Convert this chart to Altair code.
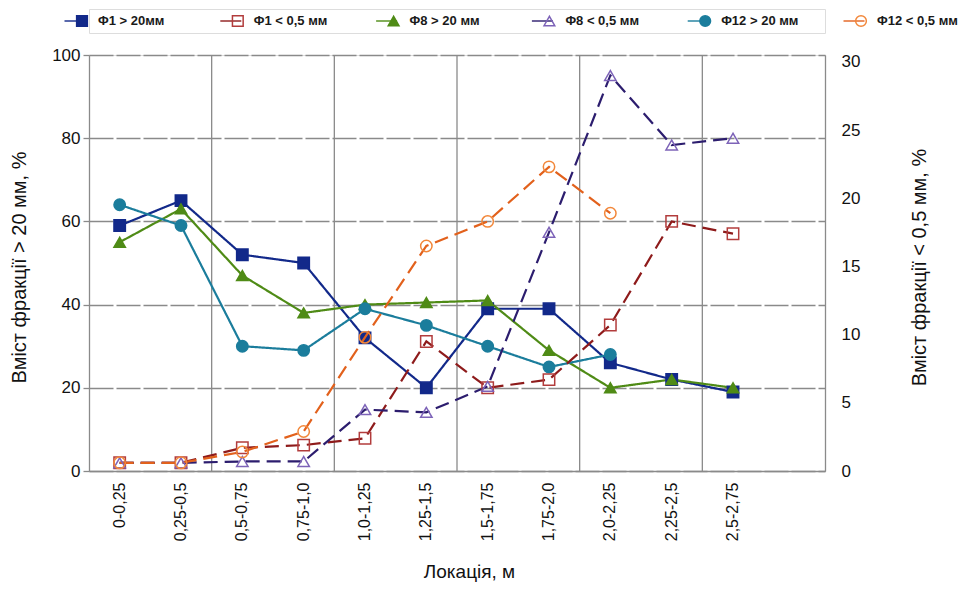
import altair as alt
import pandas as pd

# ---------------- data ----------------
categories = ["0-0,25", "0,25-0,5", "0,5-0,75", "0,75-1,0", "1,0-1,25", "1,25-1,5",
              "1,5-1,75", "1,75-2,0", "2,0-2,25", "2,25-2,5", "2,5-2,75"]

series_names = ["Φ1 > 20мм", "Φ1 < 0,5 мм", "Φ8 > 20 мм", "Φ8 < 0,5 мм",
                "Φ12 > 20 мм", "Φ12 < 0,5 мм"]

phi1_gt20 = [59, 65, 52, 50, 32, 20, 39, 39, 26, 22, 19]
phi8_gt20 = [55, 63, 47, 38, 40, 40.5, 41, 29, 20, 22, 20]
phi12_gt20 = [64, 59, 30, 29, 39, 35, 30, 25, 28]

phi1_lt05 = [0.6, 0.6, 1.7, 1.9, 2.4, 9.5, 6.1, 6.7, 10.7, 18.3, 17.4]
phi8_lt05 = [0.6, 0.6, 0.7, 0.7, 4.5, 4.3, 6.2, 17.5, 29.0, 23.9, 24.4]
phi12_lt05 = [0.6, 0.6, 1.4, 2.9, 9.8, 16.5, 18.3, 22.3, 18.9]

left_ticks = [0, 20, 40, 60, 80, 100]
right_ticks = [0, 5, 10, 15, 20, 25, 30]

# ---------------- styles ----------------
line_colors = ["#12298a", "#8e1b1b", "#4f8b16", "#2c1d6e", "#1b7d9c", "#e2611c"]
marker_stroke = ["#12298a", "#b23c3c", "#4f8b16", "#7d63b8", "#1b7d9c", "#f2873a"]
marker_fill = ["#12298a", "transparent", "#4f8b16", "transparent", "#1b7d9c", "transparent"]
shapes = ["square", "square", "triangle-up", "triangle-up", "circle", "circle"]
dashes = [[1, 0], [14, 7], [1, 0], [14, 7], [1, 0], [14, 7]]

FONT = "Liberation Sans"
GRID = "#8a8a8a"


def rows(name, vals):
    return [{"series": name, "cat": categories[i], "idx": i, "value": v}
            for i, v in enumerate(vals)]


left_df = pd.DataFrame(rows(series_names[0], phi1_gt20) + rows(series_names[2], phi8_gt20)
                       + rows(series_names[4], phi12_gt20))
right_df = pd.DataFrame(rows(series_names[1], phi1_lt05) + rows(series_names[3], phi8_lt05)
                        + rows(series_names[5], phi12_lt05))
grid_df = pd.DataFrame({"cat": categories[2::2]})
legend_df = pd.DataFrame({"series": series_names})

x_domain = categories + [" "]
xscale = alt.Scale(type="band", domain=x_domain, paddingInner=0, paddingOuter=0)
xaxis = alt.Axis(title="Локація, м", labelAngle=270, labelFontSize=16, labelColor="#111",
                 labelFont=FONT, ticks=False, grid=False, domainColor=GRID, domainWidth=1.3,
                 labelPadding=11, titleFont=FONT, titleFontSize=19, titleFontWeight="normal",
                 titleColor="#111", titleX=380, titleY=100, titleAlign="center",
                 titleBaseline="middle")
x_enc = alt.X("cat:N", scale=xscale, sort=None, axis=xaxis)

color_scale = alt.Scale(domain=series_names, range=line_colors)
stroke_scale = alt.Scale(domain=series_names, range=marker_stroke)
fill_scale = alt.Scale(domain=series_names, range=marker_fill)
shape_scale = alt.Scale(domain=series_names, range=shapes)
dash_scale = alt.Scale(domain=series_names, range=dashes)

yleft_axis = alt.Axis(values=left_ticks, title="Вміст фракції > 20 мм, %", labelFontSize=17,
                      labelColor="#111", labelFont=FONT, labelPadding=3, tickSize=6,
                      tickColor=GRID, tickWidth=1.3, domainColor=GRID, domainWidth=1.3,
                      grid=True, gridColor=GRID, gridWidth=1.3, gridDash=[24, 3],
                      titleFont=FONT, titleFontSize=20, titleFontWeight="normal",
                      titleColor="#111", titleAngle=270, titleX=-70, titleY=212,
                      titleAlign="center", titleBaseline="middle")
yright_axis = alt.Axis(orient="right", values=right_ticks, title="Вміст фракції < 0,5 мм, %",
                       labelFontSize=17, labelColor="#111", labelFont=FONT, labelPadding=16,
                       ticks=False, domainColor=GRID, domainWidth=1.3, grid=False,
                       titleFont=FONT, titleFontSize=20, titleFontWeight="normal",
                       titleColor="#111", titleAngle=270, titleX=94, titleY=212,
                       titleAlign="center", titleBaseline="middle")

# vertical grid lines every two locations
vgrid = alt.Chart(grid_df).mark_rule(color=GRID, strokeWidth=1.3).encode(
    x=alt.X("cat:N", scale=xscale, sort=None, bandPosition=0, axis=xaxis)
)


def series_layers(df, yscale, yaxis):
    y_enc = alt.Y("value:Q", scale=yscale, axis=yaxis)
    line = alt.Chart(df).mark_line(strokeWidth=2.2).encode(
        x=x_enc, y=y_enc,
        color=alt.Color("series:N", scale=color_scale, legend=None),
        strokeDash=alt.StrokeDash("series:N", scale=dash_scale, legend=None),
        order=alt.Order("idx:Q"),
    )
    pts = alt.Chart(df).mark_point(opacity=1, size=130, strokeWidth=1.5).encode(
        x=x_enc, y=y_enc,
        shape=alt.Shape("series:N", scale=shape_scale, legend=None),
        fill=alt.Fill("series:N", scale=fill_scale, legend=None),
        stroke=alt.Stroke("series:N", scale=stroke_scale, legend=None),
    )
    return line, pts


l_line, l_pts = series_layers(left_df, alt.Scale(domain=[0, 100]), yleft_axis)
r_line, r_pts = series_layers(right_df, alt.Scale(domain=[0, 30.5]), yright_axis)

left = alt.layer(vgrid, l_line, l_pts)
right = alt.layer(r_line, r_pts)
main = alt.layer(left, right).resolve_scale(y="independent").properties(width=736, height=416)

# ---------------- legend row ----------------
lx = alt.X("series:N", sort=None,
           scale=alt.Scale(type="point", domain=series_names, range=[-24, 755], padding=0),
           axis=None)
leg_line = alt.Chart(legend_df).mark_tick(orient="horizontal", size=21, thickness=2,
                                          xOffset=10).encode(
    x=lx, color=alt.Color("series:N", scale=color_scale, legend=None))
leg_pts = alt.Chart(legend_df).mark_point(opacity=1, size=115, strokeWidth=1.5,
                                          xOffset=17).encode(
    x=lx,
    shape=alt.Shape("series:N", scale=shape_scale, legend=None),
    fill=alt.Fill("series:N", scale=fill_scale, legend=None),
    stroke=alt.Stroke("series:N", scale=stroke_scale, legend=None),
)
leg_txt = alt.Chart(legend_df).mark_text(align="left", baseline="middle", xOffset=33,
                                         fontSize=13, fontWeight="bold", font=FONT,
                                         color="#1a1a1a").encode(
    x=lx, text="series:N")
legend_chart = alt.layer(leg_line, leg_pts, leg_txt).properties(width=736, height=24)

chart = alt.vconcat(legend_chart, main, spacing=11).properties(padding=0).configure_view(
    stroke="transparent", strokeWidth=0).configure(font=FONT)

chart.save("out.html", embed_options={"renderer": "svg", "actions": False})
